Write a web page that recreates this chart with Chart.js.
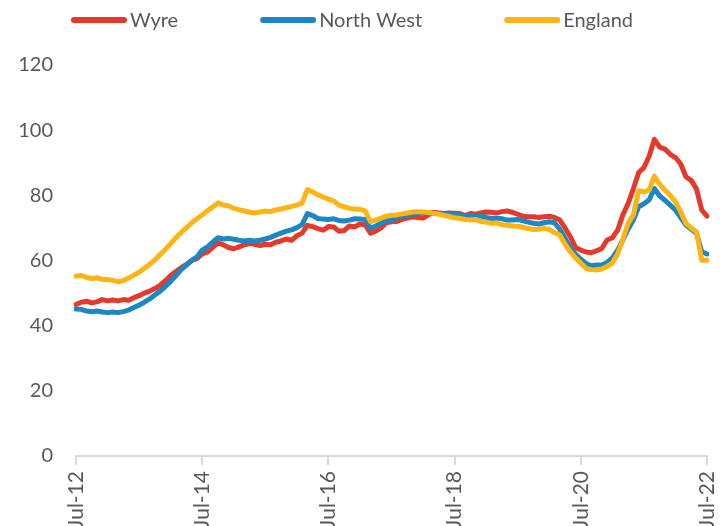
<!DOCTYPE html>
<html>
<head>
<meta charset="utf-8">
<script src="https://cdn.jsdelivr.net/npm/chart.js@4.4.1/dist/chart.umd.min.js"></script>
<style>
  html, body { margin: 0; padding: 0; background: #fff; overflow: hidden; }
  #wrap { width: 728px; height: 526px; }
</style>
</head>
<body>
<div id="wrap"><canvas id="chart" width="728" height="526"></canvas></div>
<script>
// monthly index, Jul-12 .. Jul-22
const monthNames = ['Jan', 'Feb', 'Mar', 'Apr', 'May', 'Jun', 'Jul', 'Aug', 'Sep', 'Oct', 'Nov', 'Dec'];
const labels = [];
for (let i = 0; i <= 120; i++) {
  const m = (6 + i) % 12;
  const y = 12 + Math.floor((6 + i) / 12);
  labels.push(monthNames[m] + '-' + y);
}

const seriesNames = ['Wyre', 'North West', 'England'];
const seriesColors = ['#E5392B', '#1C87C4', '#FDB515'];

const wyre = [
  46.5, 47.2, 47.5, 47.0, 47.3, 48.0, 47.6, 47.9, 47.6, 48.0,
  47.8, 48.6, 49.2, 50.0, 50.6, 51.4, 52.4, 53.8, 55.4, 56.6,
  57.8, 58.8, 60.0, 60.6, 62.0, 62.6, 64.0, 65.4, 64.8, 64.0,
  63.6, 64.2, 64.8, 65.2, 65.0, 64.6, 65.0, 64.8, 65.6, 66.0,
  66.6, 66.2, 67.6, 68.4, 70.8, 70.4, 69.8, 69.3, 70.4, 70.3,
  69.0, 69.2, 70.6, 70.3, 71.2, 70.9, 68.4, 69.0, 70.0, 71.6,
  71.9, 72.0, 72.6, 73.0, 73.4, 73.2, 73.0, 74.0, 74.8, 74.6,
  74.4, 74.6, 74.5, 74.4, 73.8, 74.4, 74.2, 74.6, 74.9, 74.8,
  74.6, 75.0, 75.2, 74.8, 74.2, 73.6, 73.4, 73.4, 73.2, 73.4,
  73.6, 73.2, 72.4, 70.0, 67.3, 64.0, 63.2, 62.6, 62.4, 63.0,
  63.7, 66.3, 67.0, 69.3, 74.0, 77.5, 82.0, 87.0, 88.5, 92.0,
  97.2, 94.8, 94.2, 92.6, 91.6, 89.6, 85.7, 84.6, 82.0, 75.5,
  73.6
];

const northWest = [
  45.1, 45.0, 44.5, 44.3, 44.5, 44.2, 44.0, 44.2, 44.0, 44.3,
  44.8, 45.6, 46.3, 47.2, 48.2, 49.4, 50.6, 52.0, 53.6, 55.4,
  57.2, 58.6, 60.0, 61.1, 63.2, 64.2, 65.6, 67.0, 66.6, 66.8,
  66.5, 66.2, 66.0, 66.2, 66.0, 66.2, 66.6, 67.1, 67.8, 68.4,
  69.0, 69.4, 70.1, 71.0, 74.4, 73.8, 72.9, 72.7, 72.6, 72.8,
  72.3, 72.1, 72.4, 72.8, 72.7, 72.6, 69.9, 70.6, 71.4, 72.2,
  72.4, 73.2, 73.6, 73.9, 74.2, 74.4, 74.6, 74.6, 74.5, 74.4,
  74.3, 74.2, 74.2, 74.0, 73.6, 73.9, 73.8, 73.6, 73.2, 72.9,
  73.0, 72.8, 72.4, 72.4, 72.6, 72.2, 71.8, 71.4, 71.2, 71.6,
  71.9, 71.6, 69.6, 66.8, 64.0, 62.0, 60.4, 59.1, 58.4, 58.6,
  58.6, 59.4, 60.8, 63.2, 66.3, 69.6, 72.4, 76.5, 77.4, 78.6,
  82.1, 79.8, 78.5, 77.0, 75.5, 73.2, 70.9, 69.6, 68.4, 62.7,
  62.0
];

const england = [
  55.2, 55.4, 54.8, 54.5, 54.7, 54.2, 54.2, 53.9, 53.5, 53.8,
  54.6, 55.5, 56.4, 57.6, 58.8, 60.2, 61.8, 63.4, 65.2, 67.0,
  68.6, 70.0, 71.6, 72.8, 74.0, 75.3, 76.4, 77.7, 77.0, 76.8,
  76.0, 75.6, 75.2, 74.8, 74.6, 74.9, 75.2, 75.0, 75.5, 75.8,
  76.2, 76.6, 77.0, 77.6, 81.8, 81.0, 80.2, 79.5, 78.8, 78.3,
  77.0, 76.5, 76.0, 75.8, 75.7, 75.2, 71.9, 72.4, 73.0, 73.6,
  73.9, 74.0, 74.3, 74.6, 74.9, 75.0, 74.9, 74.7, 74.5, 74.2,
  73.8, 73.5, 73.1, 72.9, 72.6, 72.4, 72.6, 72.0, 71.8, 71.4,
  71.5, 71.0, 70.8, 70.6, 70.5, 70.2, 69.8, 69.5, 69.6, 69.8,
  69.5, 68.6, 67.8, 65.0, 62.7, 60.8, 59.2, 57.6, 57.2, 57.1,
  57.4, 58.2, 59.2, 62.0, 66.5, 71.4, 74.0, 81.4, 81.1, 81.6,
  85.9, 83.4, 81.6, 80.0, 78.0, 75.0, 71.4, 70.0, 68.8, 60.1,
  60.1
];

const yTicks = [0, 20, 40, 60, 80, 100, 120];

const FONT = 'Lato, "Open Sans", sans-serif';
const TEXT = '#595959';

// Excel-style legend: short thick line then the name, evenly gapped
const topLegend = {
  id: 'topLegend',
  afterDraw(chart) {
    const ctx = chart.ctx;
    ctx.save();
    ctx.font = '20px ' + FONT;
    ctx.textBaseline = 'alphabetic';
    let x = 71;
    chart.data.datasets.forEach(ds => {
      ctx.strokeStyle = ds.borderColor;
      ctx.lineWidth = 6;
      ctx.lineCap = 'round';
      ctx.beginPath();
      ctx.moveTo(x + 3, 20);
      ctx.lineTo(x + 53, 20);
      ctx.stroke();
      ctx.fillStyle = TEXT;
      ctx.fillText(ds.label, x + 59, 27);
      x += 59 + ctx.measureText(ds.label).width + 82;
    });
    ctx.restore();
  }
};

const makeSet = (i, data, order) => ({
  label: seriesNames[i],
  data: data,
  borderColor: seriesColors[i],
  backgroundColor: seriesColors[i],
  borderWidth: 5,
  pointRadius: 0,
  tension: 0,
  borderJoinStyle: 'round',
  borderCapStyle: 'round',
  order: order
});

new Chart(document.getElementById('chart'), {
  type: 'line',
  data: {
    labels: labels,
    datasets: [
      makeSet(0, wyre, 3),
      makeSet(1, northWest, 2),
      makeSet(2, england, 1)
    ]
  },
  options: {
    responsive: false,
    animation: false,
    events: [],
    layout: { padding: { top: 65, right: 21, left: 0, bottom: 0 } },
    plugins: {
      legend: { display: false },
      tooltip: { enabled: false }
    },
    scales: {
      x: {
        offset: false,
        afterBuildTicks: (scale) => {
          scale.ticks = scale.ticks.filter(t => t.value % 24 === 0);
        },
        afterFit: (scale) => {
          scale.height = 70;
          scale.paddingLeft = 0;
          scale.paddingRight = 0;
        },
        grid: {
          display: true,
          drawOnChartArea: false,
          drawTicks: true,
          tickLength: 9,
          color: '#d9d9d9',
          lineWidth: 2
        },
        border: { display: true, color: '#d9d9d9', width: 2 },
        ticks: {
          autoSkip: false,
          minRotation: 90,
          maxRotation: 90,
          padding: 6,
          color: TEXT,
          font: { family: FONT, size: 21 }
        }
      },
      y: {
        min: yTicks[0],
        max: yTicks[yTicks.length - 1],
        afterFit: (scale) => { scale.width = 76; },
        afterBuildTicks: (scale) => {
          scale.ticks = yTicks.map(v => ({ value: v }));
        },
        grid: { display: false, drawTicks: false },
        border: { display: false },
        ticks: {
          padding: 23,
          color: TEXT,
          font: { family: FONT, size: 20 }
        }
      }
    }
  },
  plugins: [topLegend]
});
</script>
</body>
</html>
